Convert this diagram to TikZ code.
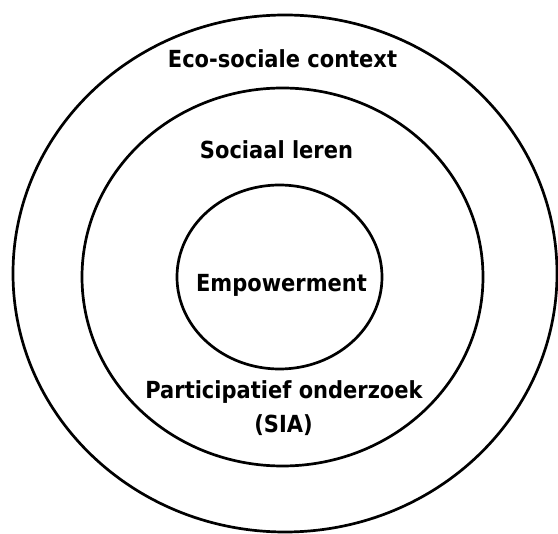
\documentclass[tikz,border=0pt]{standalone}
\usepackage{fontspec}
\setmainfont{DejaVu Sans}
\usetikzlibrary{shapes.geometric}
\newcommand{\tallbold}[1]{\scalebox{1}[1.12]{#1}}
\begin{document}
\begin{tikzpicture}[x=1pt,y=-1pt,
  ring/.style={draw=black, ellipse, line width=2.7pt, inner sep=0pt},
  lbl/.style={font=\bfseries\fontsize{21}{24}\selectfont, anchor=base, inner sep=0pt}]
\useasboundingbox (0,0) rectangle (558,534);
\node[ring, minimum width=544pt, minimum height=517pt] (outer) at (285,273.5) {};
\node[ring, minimum width=401pt, minimum height=378pt] (middle) at (282.5,277) {};
\node[ring, minimum width=205pt, minimum height=184pt] (inner) at (279.5,277) {};
\node[lbl] (eco) at (282.5,68) {\tallbold{Eco-sociale context}};
\node[lbl] (soc) at (276.5,159) {\tallbold{Sociaal leren}};
\node[lbl] (emp) at (281.5,292) {\tallbold{Empowerment}};
\node[lbl] (par) at (284,399) {\tallbold{Participatief onderzoek}};
\node[lbl] (sia) at (283.5,433) {\tallbold{(SIA)}};
\end{tikzpicture}
\end{document}
